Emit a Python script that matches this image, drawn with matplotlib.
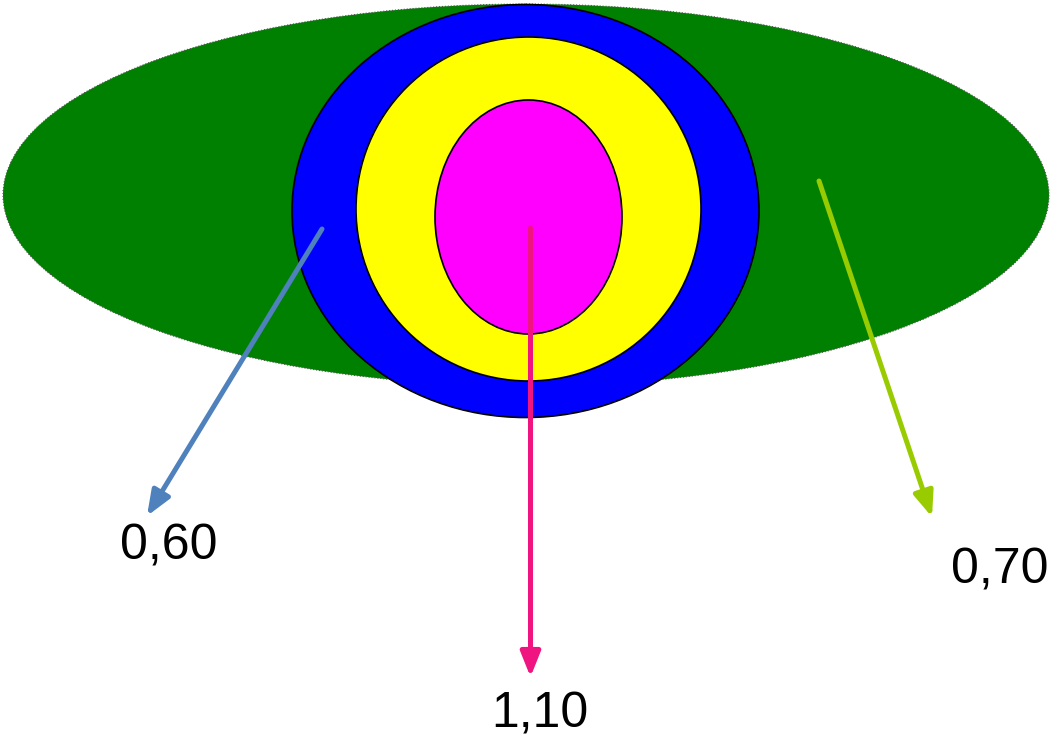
import matplotlib.pyplot as plt
from matplotlib.patches import Ellipse

# nested ellipses, outer to inner: (center x, center y, width, height)
layer_names = ['outer', 'ring', 'middle', 'core']
layer_colors = ['#008000', '#0000ff', '#ffff00', '#ff00ff']
layer_boxes = [(526, 195, 1046, 382),
               (525.5, 211, 467, 413),
               (528.5, 209, 345, 344),
               (528.5, 217, 187, 234)]

# labelled values with their arrows
values = [0.60, 1.10, 0.70]
arrow_colors = ['#4f81bd', '#f01480', '#99cc00']
arrow_starts = [(322, 229), (530.5, 228), (819, 181)]
arrow_ends = [(147, 516), (530.5, 677), (932, 517)]
label_pos = [(169, 546), (540, 714), (1000, 571)]

fig = plt.figure(figsize=(10.56, 7.41), dpi=100)
ax = fig.add_axes([0, 0, 1, 1])
ax.set_xlim(0, 1056)
ax.set_ylim(741, 0)
ax.axis('off')

for i, (cx, cy, w, h) in enumerate(layer_boxes):
    if i == 0:
        e = Ellipse((cx, cy), w, h, facecolor=layer_colors[i],
                    edgecolor='#555555', lw=0.8, linestyle=':')
    else:
        e = Ellipse((cx, cy), w, h, facecolor=layer_colors[i],
                    edgecolor='black', lw=1.2)
    ax.add_patch(e)

for v, c, s, t, p in zip(values, arrow_colors, arrow_starts, arrow_ends, label_pos):
    ax.annotate('', xy=t, xytext=s,
                arrowprops=dict(arrowstyle='-|>,head_length=1.5,head_width=0.6',
                                color=c, lw=3.6, shrinkA=0, shrinkB=0))
    ax.text(p[0], p[1], f'{v:.2f}'.replace('.', ','), fontsize=36,
            family='Liberation Sans', ha='center', va='center')

plt.savefig('out.png', dpi=100)
